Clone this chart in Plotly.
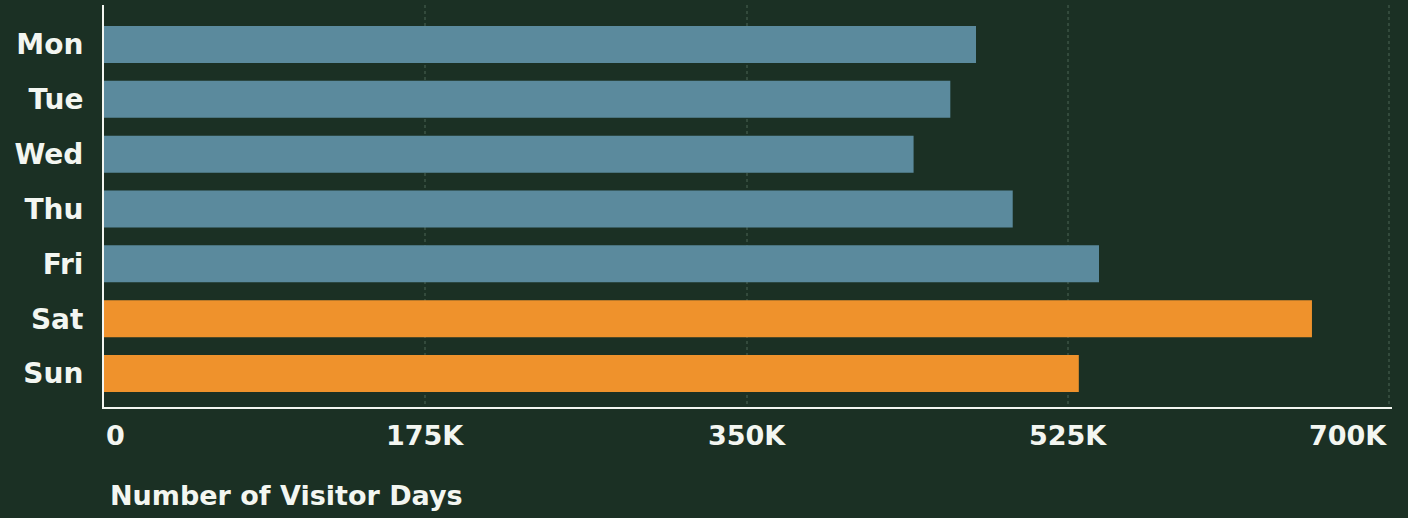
import plotly.graph_objects as go

# Visitor days by day of week
days = ["Mon", "Tue", "Wed", "Thu", "Fri", "Sat", "Sun"]
visitor_days = [475000, 461000, 441000, 495000, 542000, 658000, 531000]
weekend = [False, False, False, False, False, True, True]

tick_values = [0, 175000, 350000, 525000, 700000]
tick_labels = ["0", "175K", "350K", "525K", "700K"]

BG = "#1b3024"
WEEKDAY = "#5b8a9d"
WEEKEND = "#ef922c"
TEXT = "#f3f6f1"
FONT = "DejaVu Sans"

colors = [WEEKEND if w else WEEKDAY for w in weekend]

fig = go.Figure(
    go.Bar(
        x=visitor_days,
        y=days,
        orientation="h",
        marker=dict(color=colors, line=dict(width=0)),
        hoverinfo="x+y",
    )
)

fig.update_layout(
    width=1408,
    height=518,
    paper_bgcolor=BG,
    plot_bgcolor=BG,
    margin=dict(l=104, r=16, t=5, b=111),
    bargap=0.325,
    showlegend=False,
    font=dict(family=FONT, color=TEXT),
)

fig.update_xaxes(
    range=[0, 701600],
    tickvals=tick_values,
    showticklabels=False,
    showgrid=True,
    gridcolor="rgba(150,180,160,0.2)",
    griddash="dot",
    gridwidth=1.5,
    zeroline=False,
    showline=True,
    linecolor=TEXT,
    linewidth=2,
    ticks="",
    layer="above traces",
)

fig.update_yaxes(
    categoryorder="array",
    categoryarray=days,
    range=[6.61, -0.72],
    showgrid=False,
    zeroline=False,
    showline=True,
    linecolor=TEXT,
    linewidth=2,
    ticks="outside",
    ticklen=13,
    tickcolor="rgba(0,0,0,0)",
    tickfont=dict(family=FONT, size=28, color=TEXT, weight="bold"),
)

# x tick labels: first left-aligned, last right-aligned, others centred
annotations = []
for i, (v, lab) in enumerate(zip(tick_values, tick_labels)):
    anchor = "left" if i == 0 else ("right" if i == len(tick_values) - 1 else "center")
    annotations.append(
        dict(
            x=v, y=0, xref="x", yref="paper",
            text=lab, showarrow=False,
            xanchor=anchor, yanchor="top", yshift=-11,
            font=dict(family=FONT, size=27, color=TEXT, weight="bold"),
        )
    )

annotations.append(
    dict(
        x=0, y=0, xref="paper", yref="paper",
        text="Number of Visitor Days", showarrow=False,
        xanchor="left", yanchor="top", xshift=4, yshift=-71,
        font=dict(family=FONT, size=27, color=TEXT, weight="bold"),
    )
)

fig.update_layout(annotations=annotations)

fig.write_html("out.html")
